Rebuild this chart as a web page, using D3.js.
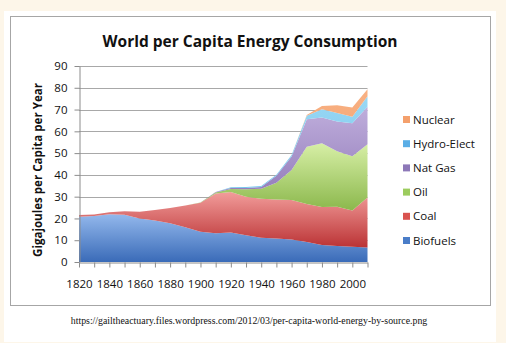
<!DOCTYPE html>
<html>
<head>
<meta charset="utf-8">
<script src="https://cdn.jsdelivr.net/npm/d3@7"></script>
<style>
  html, body { margin: 0; padding: 0; background: #fdf6e9; }
  svg { display: block; }
  text { font-family: "Open Sans", sans-serif; fill: #111; }
</style>
</head>
<body>
<svg width="506" height="343"></svg>
<script>
// 데이터 (10년 단위, GJ / 1인 / 년)
const years = d3.range(1820, 2011, 10);
const biofuels = [20.8, 21.1, 21.9, 21.7, 20.0, 19.0, 17.8, 15.9, 13.9, 13.2, 13.5, 12.3, 11.1, 10.8, 10.3, 9.2, 7.8, 7.4, 7.0, 6.7];
const coal     = [0.8, 0.7, 0.9, 1.6, 3.1, 4.9, 7.0, 10.0, 13.3, 18.2, 18.7, 17.7, 17.9, 17.9, 18.2, 17.4, 17.5, 18.0, 16.6, 22.9];
const oil      = [0, 0, 0, 0, 0, 0, 0, 0, 0.1, 0.5, 1.3, 3.4, 4.6, 7.7, 13.7, 26.3, 29.2, 25.5, 25.0, 24.5];
const natGas   = [0, 0, 0, 0, 0, 0, 0, 0, 0.05, 0.2, 0.5, 0.6, 0.8, 3.2, 6.2, 12.6, 11.9, 13.6, 15.1, 17.2];
const hydro    = [0, 0, 0, 0, 0, 0, 0, 0, 0, 0.1, 0.3, 0.4, 0.5, 0.5, 0.7, 1.7, 3.7, 3.9, 3.0, 4.8];
const nuclear  = [0, 0, 0, 0, 0, 0, 0, 0, 0, 0, 0, 0, 0, 0, 0, 0.3, 1.5, 3.6, 4.3, 3.2];

const seriesNames = ["Biofuels", "Coal", "Oil", "Nat Gas", "Hydro-Elect", "Nuclear"];
const yTicks = d3.range(0, 91, 10);
const xTicks = d3.range(1820, 2011, 10);
const xLabels = d3.range(1820, 2001, 20);

// 색 (위쪽 밝은색, 아래쪽 진한색)
const colors = {
  "Biofuels":    ["#93b8ec", "#3a6bb8"],
  "Coal":        ["#f29d9b", "#bb3335"],
  "Oil":         ["#d7efa6", "#86b446"],
  "Nat Gas":     ["#bfaedc", "#8a72b3"],
  "Hydro-Elect": ["#9ad8f4", "#6cc0ea"],
  "Nuclear":     ["#f8b184", "#f2995e"]
};
const legendColors = {
  "Biofuels": "#4a7dc8", "Coal": "#d9534f", "Oil": "#9ccc5e",
  "Nat Gas": "#8d78b8", "Hydro-Elect": "#5aaee6", "Nuclear": "#f4a06c"
};

const svg = d3.select("svg");

// 흰 카드
svg.append("rect")
  .attr("x", 4).attr("y", 11)
  .attr("width", 492).attr("height", 331)
  .attr("fill", "white");

// 차트 테두리
svg.append("rect")
  .attr("x", 10.5).attr("y", 16.5)
  .attr("width", 480).attr("height", 289)
  .attr("fill", "white")
  .attr("stroke", "#a6a6a6")
  .attr("stroke-width", 1);

const x = d3.scaleLinear().domain([1820, 2010]).range([79, 367.5]);
const y = d3.scaleLinear().domain([0, 90]).range([262, 66]);

// 그리드
svg.append("g")
  .selectAll("line")
  .data(yTicks.filter(d => d > 0))
  .join("line")
  .attr("x1", x(1820)).attr("x2", x(2010))
  .attr("y1", d => Math.round(y(d)) + 0.5)
  .attr("y2", d => Math.round(y(d)) + 0.5)
  .attr("stroke", "#a8a8a8");

// 스택 데이터
const table = years.map((yr, i) => ({
  year: yr,
  "Biofuels": biofuels[i],
  "Coal": coal[i],
  "Oil": oil[i],
  "Nat Gas": natGas[i],
  "Hydro-Elect": hydro[i],
  "Nuclear": nuclear[i]
}));
const stacked = d3.stack().keys(seriesNames)(table);

const defs = svg.append("defs");
seriesNames.forEach((name, i) => {
  const g = defs.append("linearGradient")
    .attr("id", "grad" + i)
    .attr("x1", 0).attr("y1", 0).attr("x2", 0).attr("y2", 1);
  g.append("stop").attr("offset", "0%").attr("stop-color", colors[name][0]);
  g.append("stop").attr("offset", "100%").attr("stop-color", colors[name][1]);
});

const area = d3.area()
  .x(d => x(d.data.year))
  .y0(d => y(d[0]))
  .y1(d => y(d[1]));

svg.append("g")
  .selectAll("path")
  .data(stacked)
  .join("path")
  .attr("fill", (d, i) => "url(#grad" + i + ")")
  .attr("d", area);

// y축
const yAxis = svg.append("g")
  .attr("transform", "translate(" + (Math.round(x(1820)) + 0.5) + ",0)")
  .call(d3.axisLeft(y).tickValues(yTicks).tickSize(5).tickSizeOuter(0).tickPadding(7));
yAxis.select(".domain").attr("stroke", "#8c8c8c");
yAxis.selectAll(".tick line").attr("stroke", "#8c8c8c");
yAxis.selectAll(".tick text")
  .style("font-family", "Open Sans, sans-serif")
  .style("font-size", "11.5px")
  .attr("fill", "#111");

// x축
const xAxis = svg.append("g")
  .attr("transform", "translate(0," + (Math.round(y(0)) + 0.5) + ")")
  .call(d3.axisBottom(x).tickValues(xTicks).tickSize(5).tickSizeOuter(0)
    .tickFormat(d => xLabels.includes(d) ? d : "").tickPadding(12));
xAxis.select(".domain").attr("stroke", "#8c8c8c");
xAxis.selectAll(".tick line").attr("stroke", "#8c8c8c");
xAxis.selectAll(".tick text")
  .style("font-family", "Open Sans, sans-serif")
  .style("font-size", "11.5px")
  .attr("fill", "#111");

// 폭 맞춤
function fitText(sel, width) {
  const w = sel.node().getComputedTextLength();
  const fs = parseFloat(sel.style("font-size"));
  sel.style("font-size", (fs * width / w) + "px");
}

// 제목
const title = svg.append("text")
  .attr("x", 250).attr("y", 47)
  .attr("text-anchor", "middle")
  .style("font-weight", "bold")
  .style("font-size", "16px")
  .text("World per Capita Energy Consumption");
fitText(title, 295);

// y축 제목
const yTitle = svg.append("text")
  .attr("transform", "translate(42,170) rotate(-90)")
  .attr("text-anchor", "middle")
  .style("font-weight", "bold")
  .style("font-size", "12px")
  .text("Gigajoules per Capita per Year");
fitText(yTitle, 174);

// 범례
const legendNames = seriesNames.slice().reverse();
const legend = svg.append("g")
  .selectAll("g")
  .data(legendNames)
  .join("g")
  .attr("transform", (d, i) => "translate(403," + (119.5 + i * 24.2) + ")");
legend.append("rect")
  .attr("x", 0).attr("y", -3.5)
  .attr("width", 7).attr("height", 7)
  .attr("fill", d => legendColors[d]);
legend.append("text")
  .attr("x", 10).attr("y", 4)
  .style("font-size", "11.5px")
  .text(d => d);

// 출처
const src = svg.append("text")
  .attr("x", 249).attr("y", 324)
  .attr("text-anchor", "middle")
  .style("font-family", "Liberation Serif, serif")
  .style("font-size", "10px")
  .text("https://gailtheactuary.files.wordpress.com/2012/03/per-capita-world-energy-by-source.png");
fitText(src, 357);
</script>
</body>
</html>
